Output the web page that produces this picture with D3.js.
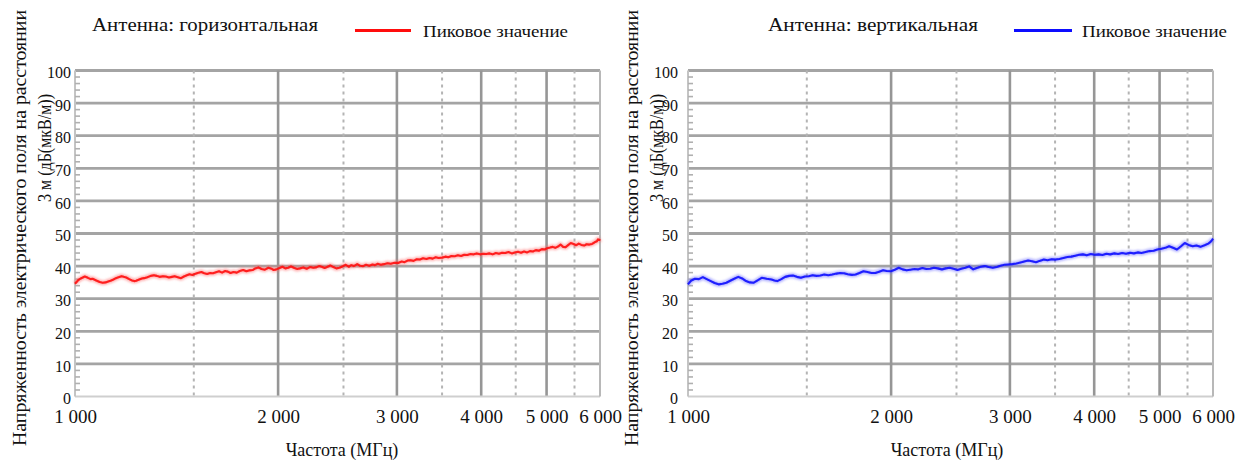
<!DOCTYPE html>
<html lang="ru">
<head>
<meta charset="utf-8">
<script src="https://cdn.jsdelivr.net/npm/d3@7"></script>
</head>
<body style="margin:0;background:#fff">
<svg id="chart" width="1235" height="461" style="display:block"></svg>
<script>
// Swept emission measurement, horizontal antenna (MHz, dB(µV/m))
const freqH = [1000,1010,1020,1034,1045,1055,1062,1075,1088,1099,1110,1120,1129,1140,1150,1160,1172,1181,1191,1203,
  1215,1224,1232,1245,1256,1266,1280,1295,1309,1322,1335,1350,1363,1378,1392,1405,1420,1436,1450,1465,
  1478,1492,1505,1520,1539,1555,1570,1586,1602,1618,1635,1652,1669,1685,1700,1718,1737,1755,1775,1795,
  1815,1834,1850,1870,1890,1912,1935,1955,1970,1988,2010,2030,2050,2070,2090,2115,2135,2155,2180,2205,
  2230,2255,2275,2300,2320,2345,2368,2390,2415,2440,2466,2490,2520,2545,2568,2590,2620,2645,2674,2700,
  2730,2760,2784,2810,2840,2870,2905,2938,2975,3018,3050,3080,3110,3143,3175,3210,3245,3280,3317,3355,
  3390,3425,3460,3500,3540,3575,3615,3655,3694,3735,3775,3815,3855,3899,3940,3985,4030,4070,4115,4160,
  4205,4250,4295,4342,4390,4440,4485,4535,4583,4630,4680,4725,4772,4820,4870,4920,4969,5010,5060,5105,
  5150,5200,5244,5290,5335,5387,5430,5480,5534,5580,5630,5685,5730,5785,5841,5890,5935,5960,5985,6000];
const peakH = [34.6,35.6,36.2,36.8,36.4,36.0,36.1,35.6,35.1,34.9,35.0,35.3,35.5,35.9,36.3,36.6,36.9,36.7,36.5,36.0,
  35.6,35.4,35.5,35.9,36.2,36.3,36.6,37.0,37.2,37.0,36.7,36.9,36.8,36.5,36.7,36.9,36.6,36.3,36.8,37.2,
  37.5,37.3,37.6,37.9,38.2,37.8,37.6,37.9,37.8,38.1,38.4,38.0,38.5,38.3,37.9,38.2,38.0,38.5,38.8,38.4,
  38.7,38.8,39.3,39.6,39.1,38.9,39.5,39.2,38.8,39.0,39.4,39.8,39.3,39.5,39.9,39.4,39.1,39.3,39.6,39.2,
  39.7,39.5,39.6,40.0,39.8,39.4,39.8,40.2,39.7,39.3,39.5,39.9,40.4,39.8,40.3,40.0,40.6,40.1,40.0,40.4,
  40.1,40.5,40.3,40.7,40.4,40.6,40.9,40.7,41.0,41.0,41.4,41.2,41.7,41.8,41.6,42.1,42.0,42.4,42.2,42.5,
  42.3,42.7,42.5,42.6,42.9,42.7,43.1,43.0,43.3,43.1,43.5,43.4,43.7,43.6,43.9,43.6,43.8,43.7,43.9,43.6,
  44.0,43.8,44.1,44.0,44.3,43.9,44.2,44.4,44.1,44.5,44.2,44.6,44.5,44.9,44.7,45.2,45.1,45.5,45.7,45.9,
  45.6,46.0,46.6,45.9,45.8,46.5,47.1,46.8,46.4,46.9,46.5,46.3,46.7,46.6,46.8,47.3,47.6,48.2,48.0,48.3];

// Swept emission measurement, vertical antenna (MHz, dB(µV/m))
const freqV = [1000,1010,1024,1038,1052,1066,1081,1095,1110,1125,1140,1155,1171,1187,1203,1219,1235,1252,1268,1286,
  1308,1330,1343,1356,1375,1393,1412,1431,1450,1470,1490,1510,1530,1550,1571,1592,1614,1636,1660,1680,
  1703,1725,1750,1772,1795,1820,1845,1870,1895,1920,1946,1970,1999,2025,2053,2080,2109,2135,2165,2195,
  2225,2255,2285,2315,2345,2379,2410,2443,2475,2509,2540,2577,2610,2647,2680,2715,2755,2790,2830,2868,
  2905,2945,2986,3025,3067,3110,3150,3192,3235,3279,3320,3368,3410,3460,3505,3552,3600,3650,3698,3750,
  3800,3849,3900,3955,4005,4061,4115,4170,4225,4284,4340,4400,4460,4519,4580,4640,4700,4767,4830,4900,
  4962,5030,5100,5165,5235,5305,5375,5449,5520,5598,5670,5749,5830,5904,5950,5980,6000];
const peakV = [34.4,35.5,36.1,36.0,36.6,36.0,35.4,34.8,34.4,34.6,34.9,35.5,36.1,36.7,36.2,35.4,35.0,34.9,35.6,36.4,
  36.1,35.9,35.6,35.4,36.0,36.7,37.0,37.1,36.7,36.4,36.8,36.9,37.2,37.0,37.1,37.4,37.2,37.4,37.7,37.9,
  37.8,37.5,37.3,37.4,37.9,38.4,38.2,37.9,37.9,38.3,38.7,38.5,38.4,38.9,39.5,39.0,38.7,38.9,39.1,39.0,
  39.4,39.1,39.2,39.5,39.3,39.0,39.3,39.5,39.2,38.8,39.2,39.5,39.9,39.0,39.4,39.8,40.0,39.7,39.5,39.7,
  40.1,40.4,40.5,40.6,40.8,41.1,41.4,41.7,41.5,41.2,41.6,42.0,41.8,42.1,42.0,42.2,42.5,42.8,42.9,43.2,
  43.5,43.6,43.3,43.7,43.5,43.6,43.4,43.8,43.6,43.9,43.7,44.0,43.8,44.1,43.9,44.2,44.0,44.3,44.6,44.7,
  45.1,45.3,45.6,46.1,45.6,45.1,46.0,47.1,46.5,46.1,46.3,45.9,46.4,46.9,47.4,48.0,48.4];

// Axis ticks
const xMajor = [1000, 2000, 3000, 4000, 5000, 6000];
const xMajorLabels = ["1 000", "2 000", "3 000", "4 000", "5 000", "6 000"];
const xMinor = [1500, 2500, 3500, 4500, 5500];
const yTicks = [0, 10, 20, 30, 40, 50, 60, 70, 80, 90, 100];
const yMinor = [2, 4, 6, 8, 12, 14, 16, 18, 22, 24, 26, 28, 32, 34, 36, 38, 42, 44, 46, 48,
  52, 54, 56, 58, 62, 64, 66, 68, 72, 74, 76, 78, 82, 84, 86, 88, 92, 94, 96, 98];

// Texts
const panelTitles = ["Антенна: горизонтальная", "Антенна: вертикальная"];
const legendLabel = "Пиковое значение";
const yTitleLines = ["Напряженность электрического поля на расстоянии", "3 м (дБ(мкВ/м))"];
const xTitle = "Частота (МГц)";

const FONT = '"Liberation Serif", "Times New Roman", serif';

const panels = [
  { freq: freqH, peak: peakH, title: panelTitles[0], color: "#ff0a0a", halo: "#ff6a6a",
    x0: 75, x1: 600, labelGap: 4, yTitleX: 26,
    titleX: 92, titleW: 226, legX0: 355, legX1: 411, legTextX: 423, legTextW: 145, xTitleX: 342 },
  { freq: freqV, peak: peakV, title: panelTitles[1], color: "#0a0aff", halo: "#6a6aff",
    x0: 688, x1: 1213, labelGap: 10, yTitleX: 638,
    titleX: 768, titleW: 210, legX0: 1014, legX1: 1072, legTextX: 1082, legTextW: 145, xTitleX: 947 }
];

const svg = d3.select("#chart").style("font-family", FONT);
const defs = svg.append("defs");
defs.append("filter").attr("id", "soft").attr("x", "-5%").attr("y", "-5%").attr("width", "110%").attr("height", "110%")
  .append("feGaussianBlur").attr("stdDeviation", 0.55);
defs.append("filter").attr("id", "softer").attr("x", "-5%").attr("y", "-20%").attr("width", "110%").attr("height", "140%")
  .append("feGaussianBlur").attr("stdDeviation", 0.8);

const yTop = 70.5, yBottom = 396.5;

panels.forEach(p => {
  const x = d3.scaleLog().domain([1000, 6000]).range([p.x0, p.x1]);
  const y = d3.scaleLinear().domain([0, 100]).range([yBottom, yTop]);
  const g = svg.append("g");

  // Grid
  const grid = g.append("g").attr("filter", "url(#soft)");
  grid.selectAll(".hgrid").data(yTicks.filter(d => d > 0)).join("line")
    .attr("x1", p.x0).attr("x2", p.x1).attr("y1", d => y(d)).attr("y2", d => y(d))
    .attr("stroke", "#a4a4a4").attr("stroke-width", 2.8);
  grid.selectAll(".vdash").data(xMinor).join("line")
    .attr("x1", d => x(d)).attr("x2", d => x(d)).attr("y1", yTop).attr("y2", yBottom)
    .attr("stroke", "#b4b4b4").attr("stroke-width", 2).attr("stroke-dasharray", "3,4");
  grid.selectAll(".vsolid").data(xMajor.slice(1, -1)).join("line")
    .attr("x1", d => x(d)).attr("x2", d => x(d)).attr("y1", yTop).attr("y2", yBottom)
    .attr("stroke", "#969696").attr("stroke-width", 2.6);
  // frame
  grid.append("line").attr("x1", p.x0).attr("x2", p.x1).attr("y1", yBottom).attr("y2", yBottom)
    .attr("stroke", "#cfcfcf").attr("stroke-width", 2);
  grid.append("line").attr("x1", p.x1).attr("x2", p.x1).attr("y1", yTop).attr("y2", yBottom)
    .attr("stroke", "#b8b8b8").attr("stroke-width", 2);
  grid.append("line").attr("x1", p.x0).attr("x2", p.x0).attr("y1", yTop).attr("y2", yBottom)
    .attr("stroke", "#c4c4c4").attr("stroke-width", 2);
  grid.selectAll(".yminor").data(yMinor).join("line")
    .attr("x1", p.x0).attr("x2", p.x0 + 5).attr("y1", d => y(d)).attr("y2", d => y(d))
    .attr("stroke", "#b0b0b0").attr("stroke-width", 1.6);

  // Peak trace
  const pts = p.freq.map((f, i) => [f, p.peak[i]]);
  const line = d3.line().x(d => x(d[0])).y(d => y(d[1]));
  g.append("path").datum(pts).attr("d", line)
    .attr("fill", "none").attr("stroke", p.halo).attr("stroke-opacity", 0.5)
    .attr("stroke-width", 5).attr("stroke-linejoin", "round").attr("filter", "url(#softer)");
  g.append("path").datum(pts).attr("d", line)
    .attr("fill", "none").attr("stroke", p.color).attr("stroke-opacity", 0.9)
    .attr("stroke-width", 2.1).attr("stroke-linejoin", "round").attr("filter", "url(#soft)");

  // Axes
  const yAxis = g.append("g").attr("transform", `translate(${p.x0 - p.labelGap},0)`)
    .call(d3.axisLeft(y).tickValues(yTicks).tickSize(0).tickPadding(0));
  yAxis.select(".domain").remove();
  yAxis.style("font-family", FONT);
  yAxis.selectAll("text").style("font-family", FONT).attr("font-size", 16).attr("fill", "#111").attr("dy", "0.45em");

  const xAxis = g.append("g").attr("transform", `translate(0,${yBottom})`)
    .call(d3.axisBottom(x).tickValues(xMajor).tickFormat((d, i) => xMajorLabels[i]).tickSize(0).tickPadding(0));
  xAxis.select(".domain").remove();
  xAxis.style("font-family", FONT);
  xAxis.selectAll("text").style("font-family", FONT).attr("font-size", 19).attr("fill", "#111").attr("y", 26).attr("dy", 0);

  // Titles and legend
  g.append("text").style("font-family", FONT).attr("x", p.titleX).attr("y", 31).attr("font-size", 18).attr("fill", "#111")
    .attr("textLength", p.titleW).attr("lengthAdjust", "spacingAndGlyphs").text(p.title);
  g.append("line").attr("x1", p.legX0).attr("x2", p.legX1).attr("y1", 31).attr("y2", 30)
    .attr("stroke", p.color).attr("stroke-width", 5.5).attr("filter", "url(#soft)");
  g.append("text").style("font-family", FONT).attr("x", p.legTextX).attr("y", 37).attr("font-size", 16).attr("fill", "#111")
    .attr("textLength", p.legTextW).attr("lengthAdjust", "spacingAndGlyphs").text(legendLabel);

  g.append("text").style("font-family", FONT).attr("x", p.xTitleX).attr("y", 456).attr("text-anchor", "middle")
    .attr("font-size", 18).attr("fill", "#111").text(xTitle);

  const yt = g.append("g").attr("fill", "#111").attr("font-size", 19);
  yt.append("text").style("font-family", FONT).attr("transform", `translate(${p.yTitleX},228) rotate(-90)`)
    .attr("text-anchor", "middle").attr("textLength", 436).attr("lengthAdjust", "spacingAndGlyphs")
    .text(yTitleLines[0]);
  yt.append("text").style("font-family", FONT).attr("transform", `translate(${p.yTitleX + 25},148) rotate(-90)`)
    .attr("text-anchor", "middle").attr("textLength", 108).attr("lengthAdjust", "spacingAndGlyphs")
    .text(yTitleLines[1]);
});
</script>
</body>
</html>
